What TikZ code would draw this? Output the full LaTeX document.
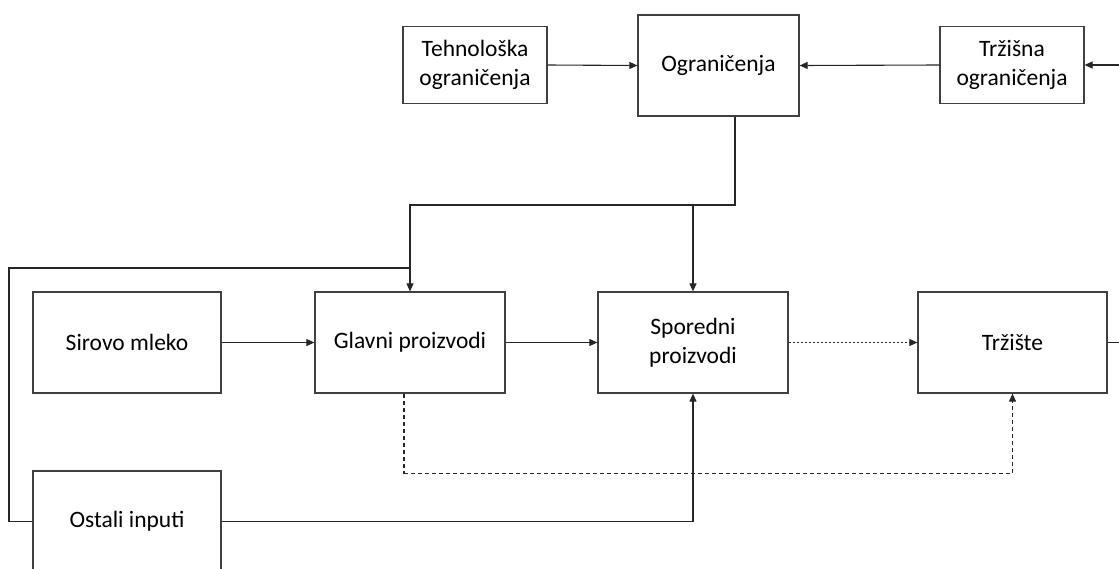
\documentclass[tikz,border=0pt]{standalone}
\usepackage{fontspec}
\setmainfont{Carlito}
\usetikzlibrary{arrows.meta}
\begin{document}
\begin{tikzpicture}[x=1pt,y=-1pt,
  box/.style={draw=black!75,line width=1.2pt,inner sep=0pt,align=center,font=\fontsize{23.5}{29}\selectfont},
  con/.style={line width=1.1pt,draw=black!85},
  arr/.style={con,-{Triangle[length=8pt,width=7pt]}},
  thinarr/.style={line width=0.8pt,draw=black!85,-{Triangle[length=8pt,width=7pt]}},
  dsh/.style={line width=1.1pt,draw=black!85,dash pattern=on 4pt off 3pt},
  dot/.style={line width=0.8pt,draw=black!85,dash pattern=on 2pt off 2pt}
]
\useasboundingbox (0,0) rectangle (1119,568);
\clip (0,0) rectangle (1119,568);
\node[box,minimum width=144,minimum height=77] (teh) at (475,65) {Tehnološka\\ograničenja};
\node[box,minimum width=161,minimum height=101] (ogr) at (718.5,65.5) {Ograničenja};
\node[box,minimum width=144,minimum height=77] (trz) at (1012,65) {Tržišna\\ograničenja};
\node[box,minimum width=188,minimum height=101] (sir) at (127,342.5) {Sirovo mleko};
\node[box,minimum width=190,minimum height=101] (gla) at (410,342.5) {Glavni proizvodi};
\node[box,minimum width=190,minimum height=101] (spo) at (693,342.5) {Sporedni\\proizvodi};
\node[box,minimum width=189,minimum height=101] (tis) at (1012.5,342.5) {Tržište};
\node[box,minimum width=188,minimum height=101] (ost) at (127,521.5) {Ostali inputi};
\coordinate (rin) at (1125,65);
\coordinate (rout) at (1125,342.5);
\coordinate (j1) at (735,205);
\coordinate (jl) at (9,268);
\draw[arr] (teh.east) -- (ogr.west);
\draw[arr] (trz.west) -- (ogr.east);
\draw[arr] (rin) -- (trz.east);
\draw[con] (tis.east) -- (rout);
\draw[arr] (ogr.south -| j1) -- (j1) -| (gla.north);
\draw[arr] (j1 -| spo.north) -- (spo.north);
\draw[con] (ost.west) -| (jl) -- (jl -| gla.north);
\draw[thinarr] (sir.east) -- (gla.west);
\draw[thinarr] (gla.east) -- (spo.west);
\draw[dot,-{Triangle[length=8pt,width=7pt,fill=black!85]}] (spo.east) -- (tis.west);
\draw[arr] (ost.east) -| (spo.south);
\draw[dsh] ([xshift=-6pt]gla.south) -- ++(0,80) coordinate (d1);
\draw[dsh,-{Triangle[length=8pt,width=7pt,fill=black!85]}] (d1) -| (tis.south);
\end{tikzpicture}
\end{document}
